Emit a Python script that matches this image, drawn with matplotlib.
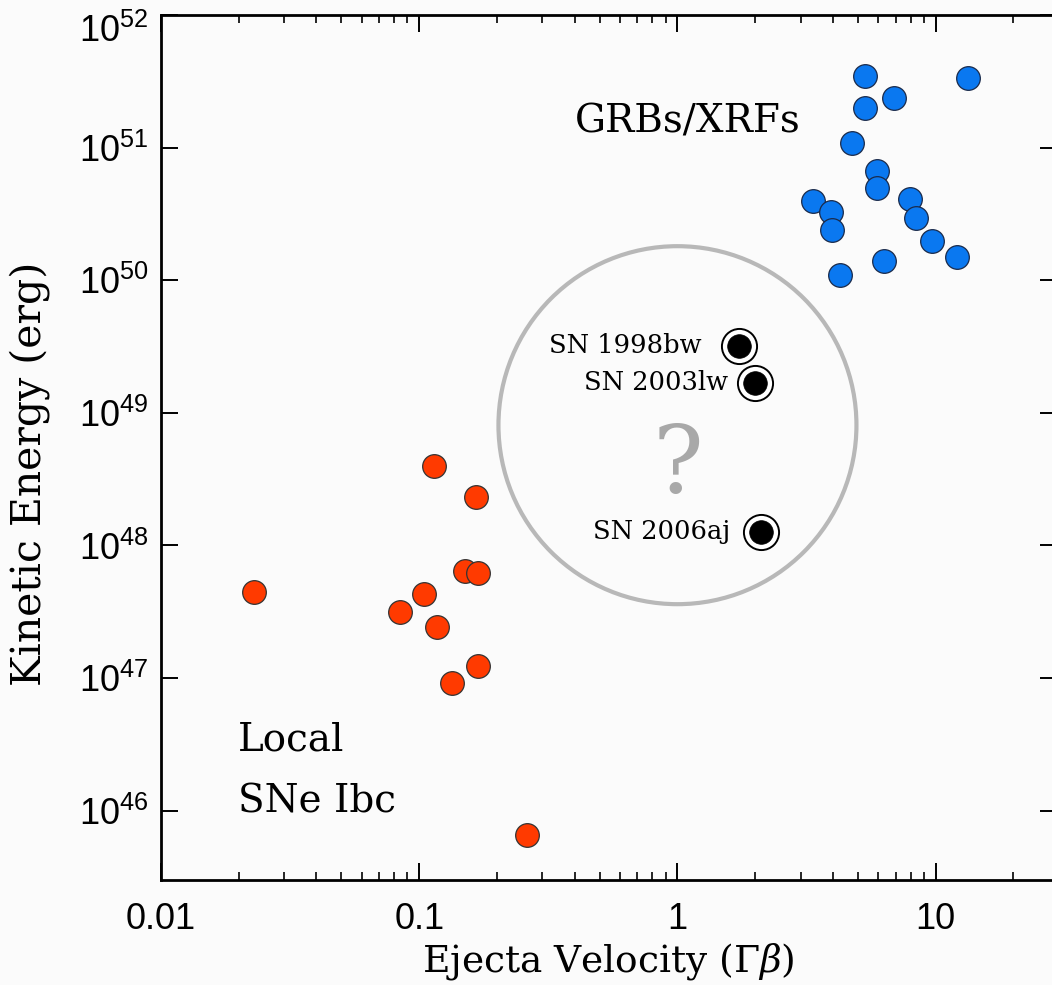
import matplotlib
matplotlib.use("Agg")
import matplotlib.pyplot as plt
import matplotlib.transforms as mtransforms
from matplotlib.patches import Circle
from matplotlib.ticker import FixedLocator, FuncFormatter, LogLocator, NullLocator
import numpy as np

# ---- data: ejecta velocity (Gamma*beta) and kinetic energy (erg) ----
sn_ibc_vel = [0.114, 0.166, 0.150, 0.169, 0.0229, 0.104, 0.0842, 0.117, 0.169, 0.134, 0.261]
sn_ibc_ek = [4.0e48, 2.33e48, 6.46e47, 6.24e47, 4.49e47, 4.34e47, 3.17e47, 2.44e47,
             1.24e47, 9.1e46, 6.5e45]

grb_vel = [5.32, 13.3, 6.88, 5.32, 4.73, 5.92, 5.92, 3.34, 7.94, 3.93, 8.37, 3.95,
           9.66, 12.1, 6.30, 4.26]
grb_ek = [3.47e51, 3.35e51, 2.37e51, 1.99e51, 1.08e51, 6.67e50, 4.97e50, 3.96e50,
          4.1e50, 3.27e50, 2.95e50, 2.4e50, 1.98e50, 1.5e50, 1.4e50, 1.1e50]

grb_sn_names = ["SN 1998bw", "SN 2003lw", "SN 2006aj"]
grb_sn_vel = [1.73, 2.0, 2.10]
grb_sn_ek = [3.2e49, 1.69e49, 1.27e48]

x_tick_vals = [0.01, 0.1, 1, 10]
x_tick_labels = ["0.01", "0.1", "1", "10"]
y_tick_exps = [46, 47, 48, 49, 50, 51, 52]

# ring around the relativistic SNe, centred in velocity/energy space
ring_center = (1.0, 8.07e48)

bg = "#fbfbfb"
orange = "#ff3a00"
blue = "#0a78f0"
serif = "DejaVu Serif"
sans = "Liberation Sans"

plt.rcParams["mathtext.fontset"] = "dejavuserif"
plt.rcParams["mathtext.default"] = "regular"

fig = plt.figure(figsize=(10.52, 9.85), dpi=100, facecolor=bg)
ax = fig.add_axes([161 / 1052, 1 - 880 / 985, 896 / 1052, 865 / 985])
ax.set_facecolor(bg)

ax.set_xscale("log")
ax.set_yscale("log")
ax.set_xlim(0.01, 29.5)
ax.set_ylim(3.0e45, 1e52)

# big grey ring (drawn in inches so it stays round)
trans = fig.dpi_scale_trans + mtransforms.ScaledTranslation(ring_center[0], ring_center[1], ax.transData)
ring = Circle((0, 0), radius=1.79, transform=trans, fill=False, edgecolor="#b8b8b8",
              linewidth=3.0, zorder=1)
ax.add_patch(ring)
ax.annotate("?", xy=ring_center, xytext=(0, -30), textcoords="offset points",
            ha="center", va="center", fontsize=68, color="#a8a8a8", family=serif, zorder=1)

# points
ax.scatter(sn_ibc_vel, sn_ibc_ek, s=290, c=orange, edgecolors="#333333", linewidths=0.9, zorder=3)
ax.scatter(grb_vel, grb_ek, s=290, c=blue, edgecolors="#1a2a4a", linewidths=0.9, zorder=3)
ax.scatter(grb_sn_vel, grb_sn_ek, s=640, c="white", edgecolors="black", linewidths=1.4, zorder=3)
ax.scatter(grb_sn_vel, grb_sn_ek, s=290, c="black", edgecolors="black", linewidths=0.5, zorder=4)

label_offsets = [(-27, 0), (-19.5, 0), (-22, 0)]
for name, vx, vy, off in zip(grb_sn_names, grb_sn_vel, grb_sn_ek, label_offsets):
    ax.annotate(name, xy=(vx, vy), xytext=off, textcoords="offset points",
                ha="right", va="center", fontsize=18.5, family=serif, color="black")

ax.text(0.588, 0.8647, "GRBs/XRFs", transform=ax.transAxes, ha="center", va="baseline",
        fontsize=28, family=serif)
ax.text(0.086, 0.150, "Local", transform=ax.transAxes, ha="left", va="baseline",
        fontsize=28, family=serif)
ax.text(0.086, 0.0786, "SNe Ibc", transform=ax.transAxes, ha="left", va="baseline",
        fontsize=28, family=serif)

# ticks
ax.xaxis.set_major_locator(FixedLocator(x_tick_vals))
ax.xaxis.set_major_formatter(FuncFormatter(lambda v, p: x_tick_labels[x_tick_vals.index(v)]
                                           if v in x_tick_vals else ""))
ax.xaxis.set_minor_locator(LogLocator(base=10, subs=np.arange(2, 10), numticks=20))
ax.yaxis.set_major_locator(FixedLocator([10.0 ** e for e in y_tick_exps]))
ax.yaxis.set_major_formatter(FuncFormatter(lambda v, p: r"$\mathregular{10^{%d}}$" % round(np.log10(v))))
ax.yaxis.set_minor_locator(NullLocator())

ax.tick_params(which="both", direction="in", top=True, right=True, color="black")
ax.tick_params(which="major", length=12, width=1.4)
ax.tick_params(which="minor", length=6, width=1.2)
ax.tick_params(axis="x", which="major", pad=16, labelsize=26)
ax.tick_params(axis="y", which="major", pad=9, labelsize=26)
for lab in ax.get_xticklabels() + ax.get_yticklabels():
    lab.set_family(sans)

# nudge the topmost energy label down so it sits inside the figure
top_lab = ax.yaxis.get_major_ticks()[-1].label1
top_lab.set_transform(top_lab.get_transform()
                      + mtransforms.ScaledTranslation(0, -0.13, fig.dpi_scale_trans))

for sp in ax.spines.values():
    sp.set_linewidth(2.0)
    sp.set_color("black")

fig.text(608 / 1052, 1 - 962 / 985, r"Ejecta Velocity ($\Gamma\mathit{\beta}$)", ha="center",
         va="center", fontsize=27, family=serif)
fig.text(30 / 1052, 1 - 474 / 985, "Kinetic Energy (erg)", ha="center", va="center",
         rotation=90, fontsize=29.5, family=serif)

fig.savefig("out.png", dpi=100, facecolor=bg)
